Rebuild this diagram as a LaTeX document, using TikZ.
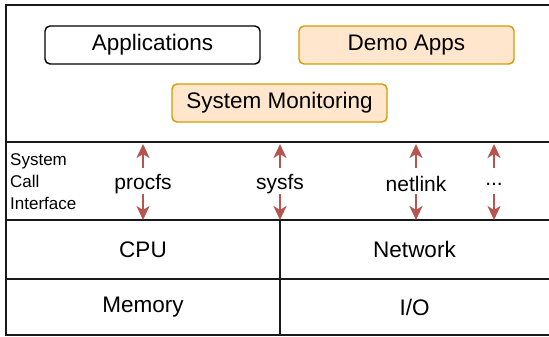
\documentclass[tikz,border=0pt]{standalone}
\usepackage{fontspec}
\setmainfont{Liberation Sans}
\usepackage{xcolor}
\usetikzlibrary{arrows.meta}

\definecolor{ioarrow}{HTML}{B85450}
\definecolor{demofill}{HTML}{FFE6CC}
\definecolor{demoline}{HTML}{D79B00}

\begin{document}
\begin{tikzpicture}[
  x=1pt, y=-1pt,
  app/.style={draw, rounded corners=5pt, line width=1.4pt,
              minimum width=215pt, minimum height=38pt,
              font=\fontsize{22.5}{26}\selectfont, fill=white},
  demo/.style={app, draw=demoline, fill=demofill},
  cell/.style={font=\fontsize{22.5}{26}\selectfont},
  iface/.style={font=\fontsize{21}{24}\selectfont, inner sep=1pt},
  sci/.style={font=\fontsize{17}{22}\selectfont, align=left, anchor=west, inner sep=0pt},
  io/.style={-{Stealth[width=13pt, length=14pt, inset=4pt]}, draw=ioarrow,
             fill=ioarrow, line width=2.2pt},
  layer/.style={line width=1.6pt, draw=black!90},
]
\useasboundingbox (0,0) rectangle (549,337);

% --- Frame and layer lines ---
\draw[layer, line width=2pt] (549,5) -- (6,5) -- (6,335) -- (549,335);
\draw[layer] (6,142) -- (549,142);
\draw[layer] (6,220) -- (549,220);
\draw[layer] (6,279) -- (549,279);
\draw[layer] (280,220) -- (280,335);

% --- User space ---
\node[app]  (apps) at (152.5, 45) {Applications};
\node[demo] (demo) at (406.5, 45) {Demo Apps};
\node[demo] (mon)  at (279.5,103) {System Monitoring};

% --- System call interface ---
\node[sci] (sci) at (10,182) {System\\Call\\Interface};
\node[iface] (procfs)  at (143,184) {procfs};
\node[iface] (sysfs)   at (280,184) {sysfs};
\node[iface] (netlink) at (416,184) {netlink};
\node[iface] (more)    at (494,184) {...};

% Arrow ends on the layer lines
\foreach \n/\x in {procfs/143, sysfs/280, netlink/416, more/494}{
  \coordinate (\n-up) at (\x,144);
  \coordinate (\n-dn) at (\x,220);
  \coordinate (\n-t)  at (\x,168);
  \coordinate (\n-b)  at (\x,194);
  \draw[io] (\n-t) -- (\n-up);
  \draw[io] (\n-b) -- (\n-dn);
}

% --- Kernel subsystems ---
\node[cell] (cpu) at (143,249.5) {CPU};
\node[cell] (net) at (414.5,249.5) {Network};
\node[cell] (mem) at (143,307) {Memory};
\node[cell] (io)  at (414.5,307) {I/O};
\end{tikzpicture}
\end{document}
